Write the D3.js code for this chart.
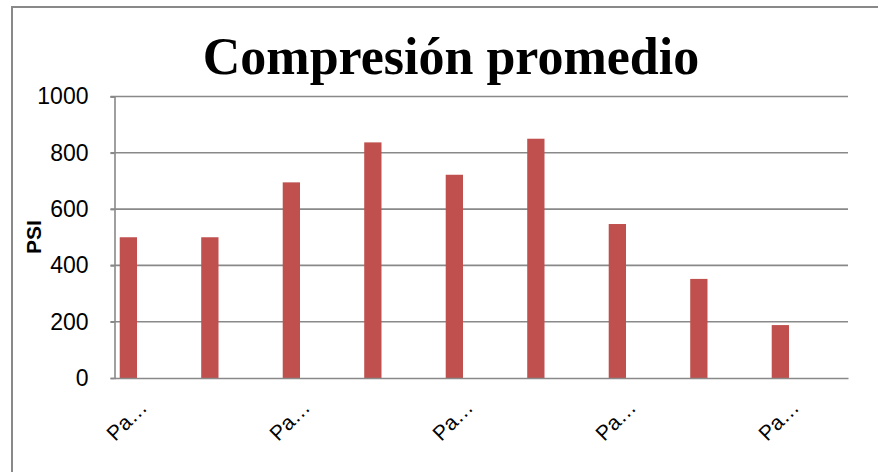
<!DOCTYPE html>
<html>
<head>
<meta charset="utf-8">
<script src="https://cdn.jsdelivr.net/npm/d3@7"></script>
<style>
  html, body { margin: 0; padding: 0; background: #fff; }
  svg { display: block; }
</style>
</head>
<body>
<svg id="chart" width="878" height="472"></svg>
<script>
// Average compression per sample (PSI)
const categories = ["Pa1", "Pa2", "Pa3", "Pa4", "Pa5", "Pa6", "Pa7", "Pa8", "Pa9"];
const categoryLabels = ["Pa…", "", "Pa…", "", "Pa…", "", "Pa…", "", "Pa…"];
const psiValues = [500, 500, 695, 837, 722, 850, 547, 352, 188];
const yTicks = [0, 200, 400, 600, 800, 1000];
const titleText = "Compresión promedio";
const yAxisTitle = "PSI";

const svg = d3.select("#chart");
const W = 878, H = 472;
const plot = { left: 114.5, right: 848, top: 96.5, bottom: 378 };
const grey = "#898989";
const barColor = "#C0504D";
const sans = "'Liberation Sans', Arial, sans-serif";

// chart frame (runs off the right and bottom edges)
svg.append("path")
  .attr("d", `M12,${H + 5} L12,7 L${W + 5},7`)
  .attr("fill", "none")
  .attr("stroke", grey)
  .attr("stroke-width", 2);

const x = d3.scaleBand().domain(categories).range([plot.left, plot.right]).padding(0);
const y = d3.scaleLinear().domain([0, 1000]).range([plot.bottom, plot.top]);

// horizontal gridlines
svg.append("g")
  .selectAll("line")
  .data(yTicks.filter(t => t > 0))
  .join("line")
  .attr("x1", plot.left - 4)
  .attr("x2", plot.right)
  .attr("y1", d => y(d))
  .attr("y2", d => y(d))
  .attr("stroke", grey)
  .attr("stroke-width", 1.6);

// bars
const bw = x.bandwidth();
svg.append("g")
  .selectAll("rect")
  .data(psiValues)
  .join("rect")
  .attr("x", (d, i) => x(categories[i]) + bw * 0.064)
  .attr("width", bw * 0.212)
  .attr("y", d => y(d))
  .attr("height", d => y(0) - y(d))
  .attr("fill", barColor);

// y axis
const yAxis = d3.axisLeft(y).tickValues(yTicks).tickFormat(d3.format("d")).tickSize(4).tickPadding(22);
const gy = svg.append("g").attr("transform", `translate(${plot.left},0)`).call(yAxis);
gy.select(".domain").attr("stroke", grey).attr("stroke-width", 1.6);
gy.selectAll(".tick line").attr("stroke", grey).attr("stroke-width", 1.6);
gy.selectAll(".tick text")
  .attr("font-family", sans)
  .attr("font-size", 23)
  .attr("fill", "#000");

// x axis baseline and rotated category labels
const xAxis = d3.axisBottom(x).tickSize(0).tickFormat((d, i) => categoryLabels[i]);
const gx = svg.append("g").attr("transform", `translate(0,${plot.bottom})`).call(xAxis);
gx.select(".domain").attr("stroke", grey).attr("stroke-width", 1.6);
gx.selectAll(".tick text")
  .attr("font-family", sans)
  .attr("font-size", 21)
  .attr("fill", "#000")
  .attr("text-anchor", "end")
  .attr("dy", 0)
  .attr("y", 0)
  .attr("transform", "translate(-7,31) rotate(-45)");

// y axis title
svg.append("text")
  .attr("transform", "translate(40.5,237) rotate(-90)")
  .attr("text-anchor", "middle")
  .attr("font-family", sans)
  .attr("font-weight", "bold")
  .attr("font-size", 21)
  .attr("fill", "#000")
  .text(yAxisTitle);

// chart title
svg.append("text")
  .attr("x", 451)
  .attr("y", 74)
  .attr("text-anchor", "middle")
  .attr("font-family", "'Liberation Serif', 'Times New Roman', serif")
  .attr("font-weight", "bold")
  .attr("font-size", 52)
  .attr("fill", "#000")
  .text(titleText);
</script>
</body>
</html>
